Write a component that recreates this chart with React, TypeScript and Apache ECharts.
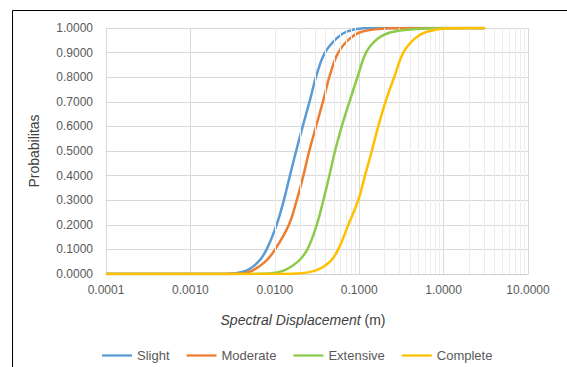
import React, { useEffect, useRef } from "react";
import * as echarts from "echarts";

const seriesNames = ["Slight", "Moderate", "Extensive", "Complete"];
const seriesColors = ["#5B9BD5", "#ED7D31", "#8CCB4A", "#FFC000"];

const slight: [number, number][] = [
  [0.0001, 0], [0.001, 0], [0.0025, 0], [0.0032, 0.002], [0.0047, 0.015], [0.0064, 0.05],
  [0.008, 0.1], [0.0105, 0.2], [0.0128, 0.3], [0.0151, 0.4], [0.0179, 0.5], [0.0214, 0.6],
  [0.0261, 0.707], [0.0313, 0.81], [0.0393, 0.9], [0.054, 0.958], [0.071, 0.985],
  [0.111, 0.999], [0.2, 1], [3.1, 1],
];
const moderate: [number, number][] = [
  [0.0001, 0], [0.001, 0], [0.003, 0], [0.0042, 0.002], [0.0055, 0.015], [0.0077, 0.05],
  [0.0101, 0.1], [0.0147, 0.2], [0.0182, 0.3], [0.0218, 0.4], [0.0256, 0.5], [0.0308, 0.6],
  [0.0376, 0.707], [0.0451, 0.81], [0.0565, 0.9], [0.0778, 0.958], [0.107, 0.985],
  [0.232, 0.999], [0.4, 1], [3.1, 1],
];
const extensive: [number, number][] = [
  [0.0001, 0], [0.001, 0], [0.005, 0], [0.0088, 0.002], [0.0132, 0.016], [0.0188, 0.05],
  [0.0243, 0.1], [0.0314, 0.2], [0.0376, 0.3], [0.0443, 0.4], [0.0517, 0.5], [0.0621, 0.6],
  [0.0778, 0.707], [0.0975, 0.81], [0.1205, 0.9], [0.168, 0.958], [0.254, 0.985],
  [0.69, 0.999], [1.0, 1], [3.1, 1],
];
const complete: [number, number][] = [
  [0.0001, 0], [0.001, 0], [0.01, 0], [0.0182, 0.002], [0.0314, 0.016], [0.0451, 0.05],
  [0.0565, 0.1], [0.0743, 0.2], [0.0975, 0.3], [0.117, 0.4], [0.141, 0.5], [0.168, 0.6],
  [0.208, 0.707], [0.266, 0.81], [0.333, 0.9], [0.458, 0.958], [0.631, 0.985],
  [1.19, 0.999], [2.0, 1], [3.1, 1],
];
const allSeries = [slight, moderate, extensive, complete];

const decades = [0.0001, 0.001, 0.01, 0.1, 1];
const minorMultipliers = [2, 3, 4, 5, 6, 7, 8, 9];
const minorGridValues: number[] = [];
decades.forEach((d) => minorMultipliers.forEach((m) => minorGridValues.push(+(d * m).toPrecision(3))));

const xTitleItalic = "Spectral Displacement";
const xTitleUnit = " (m)";
const yTitle = "Probabilitas";

export default function App() {
  const ref = useRef<HTMLDivElement>(null);
  useEffect(() => {
    if (!ref.current) return;
    const chart = echarts.init(ref.current, undefined, { renderer: "svg" });
    const font = "Liberation Sans, Arial, sans-serif";
    const series: any[] = [
      {
        name: "_minor",
        type: "line",
        data: [[0.0001, 0]],
        symbol: "none",
        lineStyle: { opacity: 0 },
        silent: true,
        z: 1,
        markLine: {
          silent: true,
          symbol: "none",
          label: { show: false },
          lineStyle: { color: "#EDEDED", type: "solid", width: 1 },
          data: minorGridValues.map((v) => ({ xAxis: v })),
          animation: false,
        },
      },
      ...seriesNames.map((name, i) => ({
        name,
        type: "line",
        data: allSeries[i],
        symbol: "none",
        smooth: 0.4,
        lineStyle: { width: 2.5, color: seriesColors[i] },
        itemStyle: { color: seriesColors[i] },
        z: 3 + i,
      })),
    ];
    chart.setOption({
      animation: false,
      backgroundColor: "#ffffff",
      textStyle: { fontFamily: font },
      grid: { left: 106, top: 28, width: 422, height: 246, containLabel: false },
      xAxis: {
        type: "log",
        logBase: 10,
        min: 0.0001,
        max: 10,
        axisLine: { show: true, lineStyle: { color: "#D0D0D0" } },
        axisTick: { show: false },
        axisLabel: {
          color: "#595959",
          fontSize: 12,
          margin: 10,
          fontFamily: font,
          formatter: (v: number) => v.toFixed(4),
        },
        splitLine: { show: true, lineStyle: { color: "#D9D9D9", width: 1 } },
      },
      yAxis: {
        type: "value",
        min: 0,
        max: 1,
        interval: 0.1,
        axisLine: { show: false },
        axisTick: { show: false },
        axisLabel: {
          color: "#595959",
          fontSize: 12,
          margin: 13,
          fontFamily: font,
          formatter: (v: number) => v.toFixed(4),
        },
        splitLine: { show: true, lineStyle: { color: "#D9D9D9", width: 1 } },
      },
      legend: {
        data: seriesNames,
        left: 97,
        top: 344,
        itemWidth: 30,
        itemHeight: 14,
        itemGap: 17,
        icon: "path://M0,6 L33,6 L33,8.5 L0,8.5 Z",
        textStyle: { color: "#595959", fontSize: 13, fontFamily: font },
      },
      graphic: [
        { type: "line", shape: { x1: 12.5, y1: 10.5, x2: 567, y2: 10.5 }, style: { stroke: "#000", lineWidth: 1 } },
        { type: "line", shape: { x1: 12.5, y1: 10.5, x2: 12.5, y2: 367 }, style: { stroke: "#000", lineWidth: 1 } },
        {
          type: "text",
          x: 303,
          y: 320,
          style: {
            text: "{i|" + xTitleItalic + "}" + xTitleUnit,
            align: "center",
            verticalAlign: "middle",
            fontSize: 14,
            fontFamily: font,
            fill: "#404040",
            rich: { i: { fontStyle: "italic", fontSize: 14, fontFamily: font, fill: "#404040", color: "#404040" } },
          },
        },
        {
          type: "text",
          x: 34,
          y: 151,
          rotation: Math.PI / 2,
          style: {
            text: yTitle,
            align: "center",
            verticalAlign: "middle",
            fontSize: 14,
            fontFamily: font,
            fill: "#404040",
          },
        },
      ],
      series,
    });
    return () => chart.dispose();
  }, []);
  return (
    <div
      ref={ref}
      style={{ position: "absolute", left: 0, top: 0, width: 567, height: 367, background: "#fff" }}
    />
  );
}
